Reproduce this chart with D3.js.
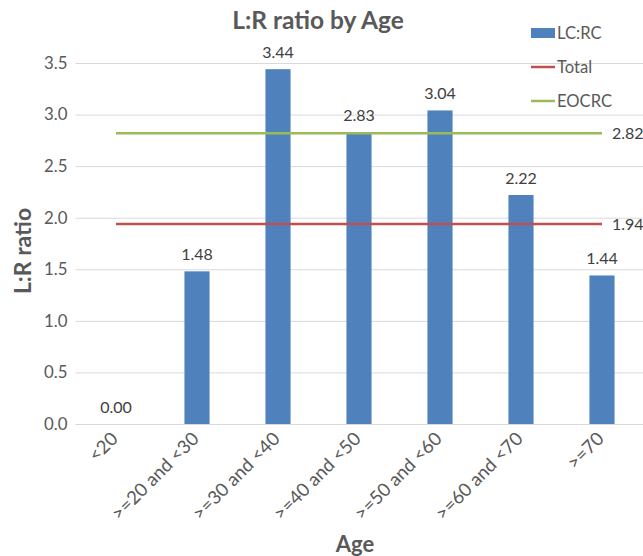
<!DOCTYPE html>
<html>
<head>
<meta charset="utf-8">
<script src="https://cdn.jsdelivr.net/npm/d3@7"></script>
<style>
  html, body { margin: 0; padding: 0; background: #fff; }
  svg { display: block; font-family: Lato, "Open Sans", sans-serif; }
</style>
</head>
<body>
<svg id="chart" width="643" height="556"></svg>
<script>
// Age groups and the left-to-right colon ratio for each
const ageGroups = ["<20", ">=20 and <30", ">=30 and <40", ">=40 and <50", ">=50 and <60", ">=60 and <70", ">=70"];
const lcrcValues = [0.00, 1.48, 3.44, 2.83, 3.04, 2.22, 1.44];
// Reference levels drawn as flat lines across the groups
const totalRatio = 1.94;
const eocrcRatio = 2.82;
const yTicks = [0, 0.5, 1.0, 1.5, 2.0, 2.5, 3.0, 3.5];
const legendItems = [
  { name: "LC:RC", type: "bar", color: "#4F81BD" },
  { name: "Total", type: "line", color: "#C0504D" },
  { name: "EOCRC", type: "line", color: "#9BBB59" }
];

const svg = d3.select("#chart");
const W = 643;
const plotLeft = 75.5, plotRight = 642.5;
const plotTop = 63, plotBottom = 424;
const textColor = "#595959";
const labelColor = "#404040";

const x = d3.scaleBand().domain(ageGroups).range([plotLeft, plotRight]).paddingInner(0.69).paddingOuter(0.345);
const y = d3.scaleLinear().domain([0, 3.5]).range([plotBottom, plotTop]);
const cx = g => x(g) + x.bandwidth() / 2;

// Gridlines and y tick labels
const yAxis = d3.axisLeft(y).tickValues(yTicks).tickFormat(d3.format(".1f"))
  .tickSize(-(W - plotLeft)).tickPadding(8);
const gy = svg.append("g").attr("transform", `translate(${plotLeft},0)`).call(yAxis);
gy.select(".domain").remove();
gy.selectAll(".tick line").attr("stroke", "#d9d9d9").attr("stroke-width", 1);
gy.selectAll(".tick text").attr("fill", textColor)
  .style("font-family", "Lato, sans-serif").style("font-size", "16.8px");

// Bars
svg.append("g").selectAll("rect").data(lcrcValues).join("rect")
  .attr("x", (d, i) => x(ageGroups[i]))
  .attr("width", x.bandwidth())
  .attr("y", d => y(d))
  .attr("height", d => y(0) - y(d))
  .attr("fill", "#4F81BD");

// Bar value labels
svg.append("g").selectAll("text").data(lcrcValues).join("text")
  .attr("x", (d, i) => cx(ageGroups[i]))
  .attr("y", d => y(d) - 11)
  .attr("text-anchor", "middle")
  .attr("fill", labelColor)
  .style("font-size", "16px")
  .text(d => d3.format(".2f")(d));

// Reference lines from first to last group centre, value shown at the right end
const refs = [
  { value: eocrcRatio, color: "#9BBB59" },
  { value: totalRatio, color: "#C0504D" }
];
const line = d3.line().x(d => cx(d.g)).y(d => y(d.v));
refs.forEach(r => {
  const pts = ageGroups.map(g => ({ g, v: r.value }));
  svg.append("path").datum(pts).attr("d", line)
    .attr("fill", "none").attr("stroke", r.color).attr("stroke-width", 2.5);
  svg.append("text")
    .attr("x", cx(ageGroups[ageGroups.length - 1]) + 10)
    .attr("y", y(r.value))
    .attr("dy", "0.36em")
    .attr("fill", labelColor)
    .style("font-size", "16px")
    .text(d3.format(".2f")(r.value));
});

// Category axis with rotated labels
const xAxis = d3.axisBottom(x).tickSize(0).tickPadding(0);
const gx = svg.append("g").attr("transform", `translate(0,${plotBottom})`).call(xAxis);
gx.select(".domain").remove();
gx.selectAll(".tick text")
  .attr("text-anchor", "end")
  .attr("y", 0).attr("dy", 0)
  .attr("transform", "translate(3,16) rotate(-45)")
  .attr("fill", textColor)
  .style("font-family", "Lato, sans-serif")
  .style("font-size", "18.5px");

// Titles
svg.append("text").attr("x", 318).attr("y", 29).attr("text-anchor", "middle")
  .attr("fill", textColor).style("font-size", "24.5px").style("font-weight", "bold")
  .text("L:R ratio by Age");
svg.append("text").attr("x", 355).attr("y", 552).attr("text-anchor", "middle")
  .attr("fill", textColor).style("font-size", "22px").style("font-weight", "bold")
  .text("Age");
svg.append("text").attr("transform", "translate(31,251) rotate(-90)").attr("text-anchor", "middle")
  .attr("fill", textColor).style("font-size", "23px").style("font-weight", "bold")
  .text("L:R ratio");

// Legend
const lg = svg.append("g").attr("transform", "translate(531,0)");
legendItems.forEach((it, i) => {
  const yy = 33 + i * 34;
  if (it.type === "bar") {
    lg.append("rect").attr("x", 0).attr("y", yy - 5).attr("width", 24).attr("height", 10).attr("fill", it.color);
  } else {
    lg.append("line").attr("x1", 0).attr("x2", 24).attr("y1", yy).attr("y2", yy)
      .attr("stroke", it.color).attr("stroke-width", 2.5);
  }
  lg.append("text").attr("x", 26).attr("y", yy + 6)
    .attr("fill", textColor).style("font-size", "16.6px").text(it.name);
});
</script>
</body>
</html>
